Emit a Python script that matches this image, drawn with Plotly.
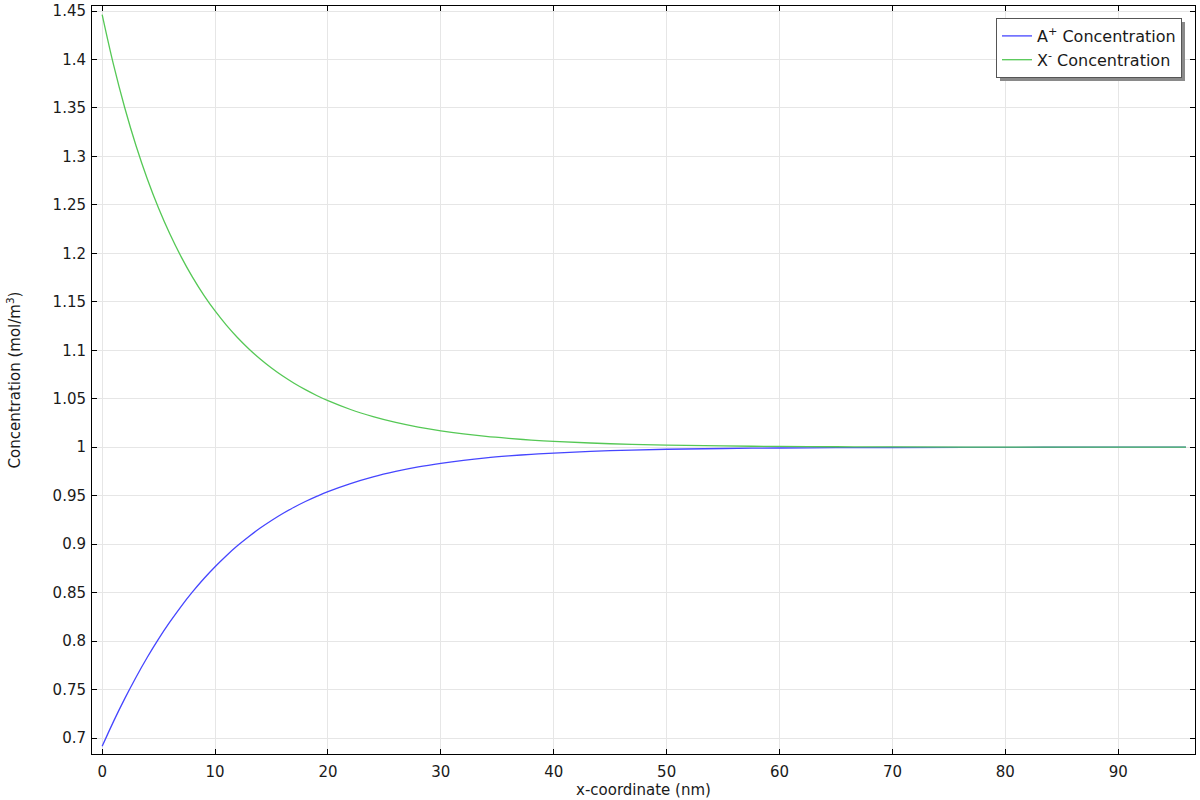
import plotly.graph_objects as go

# x-coordinate (nm)
x_nm = [0, 1, 2, 3, 4, 5, 6, 7, 8, 9, 10, 11, 12, 13, 14, 15, 16, 17, 18, 19, 20,
        22, 24, 26, 28, 30, 32, 34, 36, 38, 40, 45, 50, 55, 60, 65, 70, 80, 90, 96]

# A+ concentration (mol/m^3)
a_plus = [0.6914, 0.7169, 0.7406, 0.7627, 0.7833, 0.8023, 0.8197, 0.8359, 0.8507, 0.8643,
          0.8767, 0.8881, 0.8985, 0.9079, 0.9166, 0.9244, 0.9316, 0.9381, 0.9440, 0.9493,
          0.9542, 0.9625, 0.9694, 0.9750, 0.9797, 0.9834, 0.9865, 0.9890, 0.9910, 0.9927,
          0.9940, 0.9964, 0.9979, 0.9987, 0.9992, 0.9995, 0.9997, 0.9999, 1.0, 1.0]

# X- concentration (mol/m^3)
x_minus = [1.4463, 1.3949, 1.3502, 1.3110, 1.2767, 1.2465, 1.2199, 1.1964, 1.1755, 1.1570,
           1.1406, 1.1260, 1.1130, 1.1014, 1.0910, 1.0817, 1.0734, 1.0660, 1.0594, 1.0534,
           1.0480, 1.0389, 1.0316, 1.0256, 1.0208, 1.0169, 1.0137, 1.0111, 1.0091, 1.0074,
           1.0060, 1.0036, 1.0021, 1.0013, 1.0008, 1.0005, 1.0003, 1.0001, 1.0, 1.0]

x_ticks = [0, 10, 20, 30, 40, 50, 60, 70, 80, 90]
x_tick_labels = ["0", "10", "20", "30", "40", "50", "60", "70", "80", "90"]
y_ticks = [0.7, 0.75, 0.8, 0.85, 0.9, 0.95, 1.0, 1.05, 1.1, 1.15, 1.2, 1.25,
           1.3, 1.35, 1.4, 1.45]
y_tick_labels = ["0.7", "0.75", "0.8", "0.85", "0.9", "0.95", "1", "1.05", "1.1",
                 "1.15", "1.2", "1.25", "1.3", "1.35", "1.4", "1.45"]

FONT = "DejaVu Sans, sans-serif"
TXT = "#1a1a1a"
FS = 15

fig = go.Figure()
fig.add_trace(go.Scatter(x=x_nm, y=a_plus, mode="lines", name="A<sup>+</sup> Concentration",
                         line=dict(color="#4646ff", width=1.3, shape="spline", smoothing=1.0)))
fig.add_trace(go.Scatter(x=x_nm, y=x_minus, mode="lines", name="X<sup>-</sup> Concentration",
                         line=dict(color="#55c855", width=1.3, shape="spline", smoothing=1.0)))

L, R, T, B = 92, 5, 6, 46
W, H = 1200, 800
pw, ph = W - L - R, H - T - B

def px(xp):
    return (xp - L) / pw

def py(yp):
    return 1 - (yp - T) / ph

axis_common = dict(
    showline=True, linecolor="black", linewidth=1, mirror="ticks",
    ticks="inside", ticklen=5, tickcolor="black", tickwidth=1,
    showgrid=True, gridcolor="#e6e6e6", gridwidth=1, zeroline=False,
    tickfont=dict(family=FONT, size=FS, color=TXT), automargin=False,
)

fig.update_layout(
    width=W, height=H,
    margin=dict(l=L, r=R, t=T, b=B),
    paper_bgcolor="white", plot_bgcolor="white",
    font=dict(family=FONT, size=FS, color=TXT),
    xaxis=dict(range=[-0.9, 96.8], tickvals=x_ticks, ticktext=x_tick_labels,
               ticklabelstandoff=4,
               title=dict(text="x-coordinate (nm)", font=dict(family=FONT, size=FS, color=TXT), standoff=2),
               **axis_common),
    yaxis=dict(range=[0.6835, 1.4552], tickvals=y_ticks, ticktext=y_tick_labels,
               ticklabelstandoff=2,
               title=dict(text="Concentration (mol/m<sup>3</sup>)", font=dict(family=FONT, size=FS, color=TXT), standoff=28),
               **axis_common),
    legend=dict(x=px(1182), y=py(18), xanchor="right", yanchor="top",
                bgcolor="white", bordercolor="#555", borderwidth=1,
                font=dict(family=FONT, size=16, color=TXT),
                itemwidth=30, tracegroupgap=0),
    showlegend=True,
)

# legend drop shadow
fig.add_shape(type="rect", xref="paper", yref="paper",
              x0=px(1000), x1=px(1185), y0=py(81), y1=py(22),
              fillcolor="#8a8a8a", line=dict(width=0), layer="above")

fig.write_html("out.html", config={"displayModeBar": False},
               post_script="document.body.style.margin='0';document.body.style.overflow='hidden';")
